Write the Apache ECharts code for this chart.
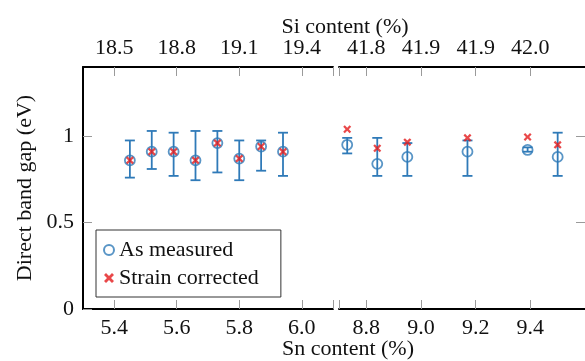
<!DOCTYPE html>
<html>
<head>
<meta charset="utf-8">
<script src="https://cdn.jsdelivr.net/npm/echarts@6/dist/echarts.min.js"></script>
<style>
  html, body { margin: 0; padding: 0; background: #fff; }
  #chart { width: 585px; height: 361px; }
</style>
</head>
<body>
<div id="chart"></div>
<script>
// left block (low Sn)
var snLeft      = [5.45, 5.52, 5.59, 5.66, 5.73, 5.80, 5.87, 5.94];
var gapLeft     = [0.86, 0.91, 0.91, 0.86, 0.96, 0.87, 0.94, 0.91];
var lowLeft     = [0.76, 0.81, 0.77, 0.745, 0.79, 0.745, 0.80, 0.77];
var highLeft    = [0.975, 1.03, 1.02, 1.03, 1.03, 0.975, 0.975, 1.02];
var corrLeft    = [0.86, 0.91, 0.91, 0.86, 0.96, 0.87, 0.94, 0.91];

// right block (high Sn)
var snRight     = [8.73, 8.84, 8.95, 9.17, 9.39, 9.50];
var gapRight    = [0.95, 0.84, 0.88, 0.91, 0.92, 0.88];
var lowRight    = [0.90, 0.77, 0.77, 0.77, 0.91, 0.77];
var highRight   = [0.99, 0.99, 0.96, 0.975, 0.935, 1.02];
var corrRight   = [1.04, 0.93, 0.965, 0.99, 0.995, 0.95];

// tick labels
var snTicksLeft  = [5.4, 5.6, 5.8, 6.0];
var snTicksRight = [8.8, 9.0, 9.2, 9.4];
var siLabelsLeft  = ['18.5', '18.8', '19.1', '19.4'];
var siLabelsRight = ['41.8', '41.9', '41.9', '42.0'];
var gapTicks = [0, 0.5, 1];

var BLUE = '#2f7ab8';
var RED  = '#e41a1c';
var FONT = '"Liberation Serif", "Times New Roman", Times, serif';
var FS = 22;
var CROSS = 'path://M0,2L2,0L5,3L8,0L10,2L7,5L10,8L8,10L5,7L2,10L0,8L3,5Z';

function zip(a, b){
    var out = [];
    for (var i = 0; i < a.length; i++) out.push([a[i], b[i]]);
    return out;
}
function zip3(a, b, c){
    var out = [];
    for (var i = 0; i < a.length; i++) out.push([a[i], b[i], c[i]]);
    return out;
}
function pick(vals, labels){
    return function(v){
        for (var i = 0; i < vals.length; i++) {
            if (Math.abs(vals[i] - v) < 1e-6) return labels[i];
        }
        return '';
    };
}
function fmtSn(v){ return v.toFixed(1); }

var chart = echarts.init(document.getElementById('chart'));

var tickStyle = { show: true, inside: true, length: 9, lineStyle: { color: '#9a9a9a', width: 1 } };
var blackLine = { show: true, lineStyle: { color: '#000', width: 2 } };
var labelBase = { fontFamily: FONT, fontSize: FS, color: '#111' };
var titleFont = FS + 'px ' + FONT;

function errorBars(params, api){
    var x = api.value(0);
    var lo = api.coord([x, api.value(1)]);
    var hi = api.coord([x, api.value(2)]);
    var hw = 5;
    var st = { stroke: BLUE, lineWidth: 1.8, fill: null };
    return {
        type: 'group',
        children: [
            { type: 'line', shape: { x1: lo[0], y1: lo[1], x2: hi[0], y2: hi[1] }, style: st },
            { type: 'line', shape: { x1: lo[0] - hw, y1: lo[1], x2: lo[0] + hw, y2: lo[1] }, style: st },
            { type: 'line', shape: { x1: hi[0] - hw, y1: hi[1], x2: hi[0] + hw, y2: hi[1] }, style: st }
        ]
    };
}

var option = {
    animation: false,
    backgroundColor: '#fff',
    grid: [
        { left: 83, top: 67, width: 250, height: 242 },
        { left: 339, top: 67, width: 250.5, height: 242 }
    ],
    xAxis: [
        { gridIndex: 0, type: 'value', position: 'bottom', min: 5.3, max: 6.1,
          axisLine: blackLine, splitLine: { show: false },
          axisTick: Object.assign({ customValues: snTicksLeft.concat([6.1]) }, tickStyle),
          axisLabel: Object.assign({ customValues: snTicksLeft, formatter: fmtSn, margin: 8 }, labelBase) },
        { gridIndex: 1, type: 'value', position: 'bottom', min: 8.7, max: 9.6,
          axisLine: blackLine, splitLine: { show: false },
          axisTick: Object.assign({ customValues: [8.7].concat(snTicksRight) }, tickStyle),
          axisLabel: Object.assign({ customValues: snTicksRight, formatter: fmtSn, margin: 8 }, labelBase) },
        { gridIndex: 0, type: 'value', position: 'top', min: 5.3, max: 6.1,
          axisLine: blackLine, splitLine: { show: false },
          axisTick: Object.assign({ customValues: snTicksLeft.concat([6.1]) }, tickStyle),
          axisLabel: Object.assign({ customValues: snTicksLeft, formatter: pick(snTicksLeft, siLabelsLeft), margin: 8 }, labelBase) },
        { gridIndex: 1, type: 'value', position: 'top', min: 8.7, max: 9.6,
          axisLine: blackLine, splitLine: { show: false },
          axisTick: Object.assign({ customValues: [8.7].concat(snTicksRight) }, tickStyle),
          axisLabel: Object.assign({ customValues: snTicksRight, formatter: pick(snTicksRight, siLabelsRight), margin: 8 }, labelBase) }
    ],
    yAxis: [
        { gridIndex: 0, type: 'value', position: 'left', min: 0, max: 1.4,
          axisLine: blackLine, splitLine: { show: false },
          axisTick: Object.assign({ customValues: gapTicks }, tickStyle),
          axisLabel: Object.assign({ customValues: gapTicks, margin: 9 }, labelBase) },
        { gridIndex: 1, type: 'value', position: 'right', min: 0, max: 1.4,
          axisLine: { show: false }, splitLine: { show: false },
          axisTick: Object.assign({ customValues: [0.5, 1] }, tickStyle),
          axisLabel: { show: false } }
    ],
    legend: {
        orient: 'vertical',
        left: 96, top: 230,
        padding: [9, 22, 8, 7],
        itemWidth: 10, itemHeight: 10, itemGap: 6,
        borderColor: '#333', borderWidth: 1,
        backgroundColor: '#fff',
        textStyle: { fontFamily: FONT, fontSize: FS, color: '#111' },
        data: [
            { name: 'As measured', icon: 'circle' },
            { name: 'Strain corrected', icon: CROSS }
        ]
    },
    graphic: [
        { type: 'text', x: 345, y: 27, style: { text: 'Si content (%)', font: titleFont, fill: '#111', align: 'center', verticalAlign: 'middle' } },
        { type: 'text', x: 348, y: 349, style: { text: 'Sn content (%)', font: titleFont, fill: '#111', align: 'center', verticalAlign: 'middle' } },
        { type: 'text', x: 25, y: 188, rotation: Math.PI / 2, style: { text: 'Direct band gap (eV)', font: titleFont, fill: '#111', align: 'center', verticalAlign: 'middle' } }
    ],
    series: [
        { type: 'custom', name: 'errL', xAxisIndex: 0, yAxisIndex: 0, z: 2,
          renderItem: errorBars, data: zip3(snLeft, lowLeft, highLeft) },
        { type: 'custom', name: 'errR', xAxisIndex: 1, yAxisIndex: 1, z: 2,
          renderItem: errorBars, data: zip3(snRight, lowRight, highRight) },
        { type: 'scatter', name: 'As measured', xAxisIndex: 0, yAxisIndex: 0, z: 3,
          symbol: 'circle', symbolSize: 10,
          itemStyle: { color: 'rgba(255,255,255,0)', borderColor: BLUE, borderWidth: 1.8 },
          data: zip(snLeft, gapLeft) },
        { type: 'scatter', name: 'As measured', xAxisIndex: 1, yAxisIndex: 1, z: 3,
          symbol: 'circle', symbolSize: 10,
          itemStyle: { color: 'rgba(255,255,255,0)', borderColor: BLUE, borderWidth: 1.8 },
          data: zip(snRight, gapRight) },
        { type: 'scatter', name: 'Strain corrected', xAxisIndex: 0, yAxisIndex: 0, z: 4,
          symbol: CROSS, symbolSize: 8,
          itemStyle: { color: RED },
          data: zip(snLeft, corrLeft) },
        { type: 'scatter', name: 'Strain corrected', xAxisIndex: 1, yAxisIndex: 1, z: 4,
          symbol: CROSS, symbolSize: 8,
          itemStyle: { color: RED },
          data: zip(snRight, corrRight) }
    ]
};

chart.setOption(option);
</script>
</body>
</html>
